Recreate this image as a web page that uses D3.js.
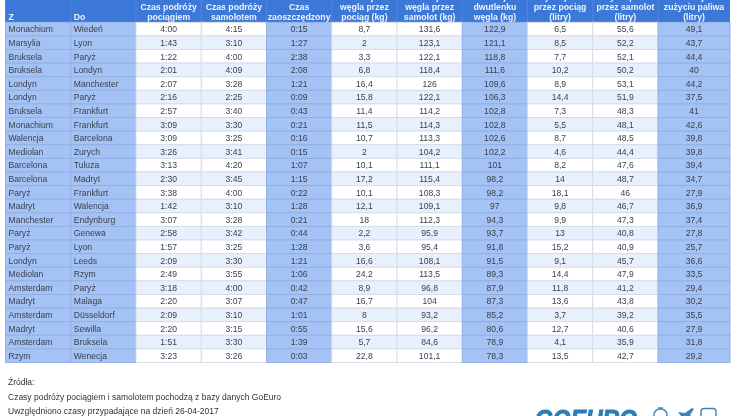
<!DOCTYPE html>
<html><head><meta charset="utf-8">
<script src="https://cdn.jsdelivr.net/npm/d3@7/dist/d3.min.js"></script>
<style>
html,body{margin:0;padding:0;background:#fff;overflow:hidden}
svg{display:block;filter:blur(0.35px)}
text{font-family:"Liberation Sans",Arial,sans-serif}
</style></head><body>
<script>
const fromCity=["Monachium","Marsylia","Bruksela","Bruksela","Londyn","Londyn","Bruksela","Monachium","Walencja","Mediolan","Barcelona","Barcelona","Paryż","Madryt","Manchester","Paryż","Paryż","Londyn","Mediolan","Amsterdam","Madryt","Amsterdam","Madryt","Amsterdam","Rzym"];
const toCity=["Wiedeń","Lyon","Paryż","Londyn","Manchester","Paryż","Frankfurt","Frankfurt","Barcelona","Zurych","Tuluza","Madryt","Frankfurt","Walencja","Endynburg","Genewa","Lyon","Leeds","Rzym","Paryż","Malaga","Düsseldorf","Sewilla","Bruksela","Wenecja"];
const timeTrain=["4:00","1:43","1:22","2:01","2:07","2:16","2:57","3:09","3:09","3:26","3:13","2:30","3:38","1:42","3:07","2:58","1:57","2:09","2:49","3:18","2:20","2:09","2:20","1:51","3:23"];
const timePlane=["4:15","3:10","4:00","4:09","3:28","2:25","3:40","3:30","3:25","3:41","4:20","3:45","4:00","3:10","3:28","3:42","3:25","3:30","3:55","4:00","3:07","3:10","3:15","3:30","3:26"];
const timeSaved=["0:15","1:27","2:38","2:08","1:21","0:09","0:43","0:21","0:16","0:15","1:07","1:15","0:22","1:28","0:21","0:44","1:28","1:21","1:06","0:42","0:47","1:01","0:55","1:39","0:03"];
const co2Train=["8,7","2","3,3","6,8","16,4","15,8","11,4","11,5","10,7","2","10,1","17,2","10,1","12,1","18","2,2","3,6","16,6","24,2","8,9","16,7","8","15,6","5,7","22,8"];
const co2Plane=["131,6","123,1","122,1","118,4","126","122,1","114,2","114,3","113,3","104,2","111,1","115,4","108,3","109,1","112,3","95,9","95,4","108,1","113,5","96,8","104","93,2","96,2","84,6","101,1"];
const co2Less=["122,9","121,1","118,8","111,6","109,6","106,3","102,8","102,8","102,6","102,2","101","98,2","98,2","97","94,3","93,7","91,8","91,5","89,3","87,9","87,3","85,2","80,6","78,9","78,3"];
const fuelTrain=["6,5","8,5","7,7","10,2","8,9","14,4","7,3","5,5","8,7","4,6","8,2","14","18,1","9,8","9,9","13","15,2","9,1","14,4","11,8","13,6","3,7","12,7","4,1","13,5"];
const fuelPlane=["55,6","52,2","52,1","50,2","53,1","51,9","48,3","48,1","48,5","44,4","47,6","48,7","46","46,7","47,3","40,8","40,9","45,7","47,9","41,2","43,8","39,2","40,6","35,9","42,7"];
const fuelLess=["49,1","43,7","44,4","40","44,2","37,5","41","42,6","39,8","39,8","39,4","34,7","27,9","36,9","37,4","27,8","25,7","36,6","33,5","29,4","30,2","35,5","27,9","31,8","29,2"];
const headers=[["Z"],["Do"],["Czas podróży","pociągiem"],["Czas podróży","samolotem"],["Czas","zaoszczędzony"],["Emisja","węgla przez","pociąg (kg)"],["Emisja","węgla przez","samolot (kg)"],["Mniej","dwutlenku","węgla (kg)"],["Zużycie paliwa","przez pociąg","(litry)"],["Zużycie paliwa","przez samolot","(litry)"],["Redukcja w","zużyciu paliwa","(litry)"]];
const columns=[fromCity,toCity,timeTrain,timePlane,timeSaved,co2Train,co2Plane,co2Less,fuelTrain,fuelPlane,fuelLess];
const highlighted=[0,1,4,7,10];
const footnotes=["Źródła:","Czasy podróży pociągiem i samolotem pochodzą z bazy danych GoEuro","Uwzględniono czasy przypadające na dzień 26-04-2017"];

const W=737,H=416;
const svg=d3.select("body").append("svg").attr("width",W).attr("height",H);
const x=d3.scaleLinear().domain([0,10,11]).range([5.5,658,730]);
const y=d3.scaleBand().domain(d3.range(fromCity.length)).range([22.3,362.5]);
const isHi=i=>highlighted.includes(i);

// header
svg.append("rect").attr("x",x(0)).attr("y",0).attr("width",x(11)-x(0)).attr("height",y(0)).attr("fill","#3c78d8");
const hg=svg.selectAll("g.h").data(headers).join("g").attr("class","h");
hg.append("line").attr("x1",(d,i)=>x(i)).attr("x2",(d,i)=>x(i)).attr("y1",0).attr("y2",y(0)).attr("stroke","#4f86dc").attr("stroke-width",1);
hg.each(function(lines,i){
  const n=lines.length;
  d3.select(this).selectAll("text").data(lines).join("text")
    .attr("x",i<2?x(i)+3:(x(i)+x(i+1))/2)
    .attr("y",(l,k)=>20.2-(n-1-k)*10)
    .attr("text-anchor",i<2?"start":"middle")
    .attr("font-size",8.7).attr("font-weight","bold").attr("fill","#edf3fc")
    .text(l=>l);
});

// cells
const rows=svg.selectAll("g.r").data(d3.range(fromCity.length)).join("g").attr("class","r").attr("transform",r=>`translate(0,${y(r)})`);
rows.each(function(r){
  const g=d3.select(this);
  const cells=g.selectAll("g").data(columns.map((c,i)=>({v:c[r],i}))).join("g");
  cells.append("rect").attr("x",d=>x(d.i)).attr("width",d=>x(d.i+1)-x(d.i)).attr("height",y.bandwidth())
    .attr("fill",d=>isHi(d.i)?"#a4c2f4":(r%2?"#e8f0fe":"#ffffff"))
    .attr("stroke",d=>isHi(d.i)?"#8fb0e4":"#d5dbe6").attr("stroke-width",0.9);
  cells.append("text")
    .attr("x",d=>d.i<2?x(d.i)+3:(x(d.i)+x(d.i+1))/2)
    .attr("y",y.bandwidth()/2+3.2)
    .attr("text-anchor",d=>d.i<2?"start":"middle")
    .attr("font-size",8.6).attr("fill","#3a3f4a").text(d=>d.v);
});

// footnotes
svg.selectAll("text.f").data(footnotes).join("text").attr("class","f")
  .attr("x",8).attr("y",(d,i)=>385.3+i*14.3).attr("font-size",8.5).attr("fill","#333").text(d=>d);

// logo, cut off by the bottom edge
svg.append("text").attr("x",535).attr("y",428).attr("font-size",25).attr("font-weight","bold").attr("font-style","italic")
  .attr("textLength",102).attr("lengthAdjust","spacingAndGlyphs").attr("fill","#2a7fb5").attr("stroke","#2a7fb5").attr("stroke-width",1).text("GOEURO");
const logo=svg.append("g").attr("fill","none").attr("stroke","#3b86b8").attr("stroke-width",1.4);
logo.append("path").attr("d","M654 416 V414.5 a6.5 5.5 0 0 1 13 0 V416");
logo.append("path").attr("d","M658 408 h5");
logo.append("path").attr("d","M701 416 V411.5 q0 -3 3 -3 h9 q3 0 3 3 V416");
svg.append("path").attr("fill","#3b86b8").attr("d","M678 412 l7 1 l7 -5 l2 1 l-4 6 l1 1 h-10 z");
</script>
</body></html>
